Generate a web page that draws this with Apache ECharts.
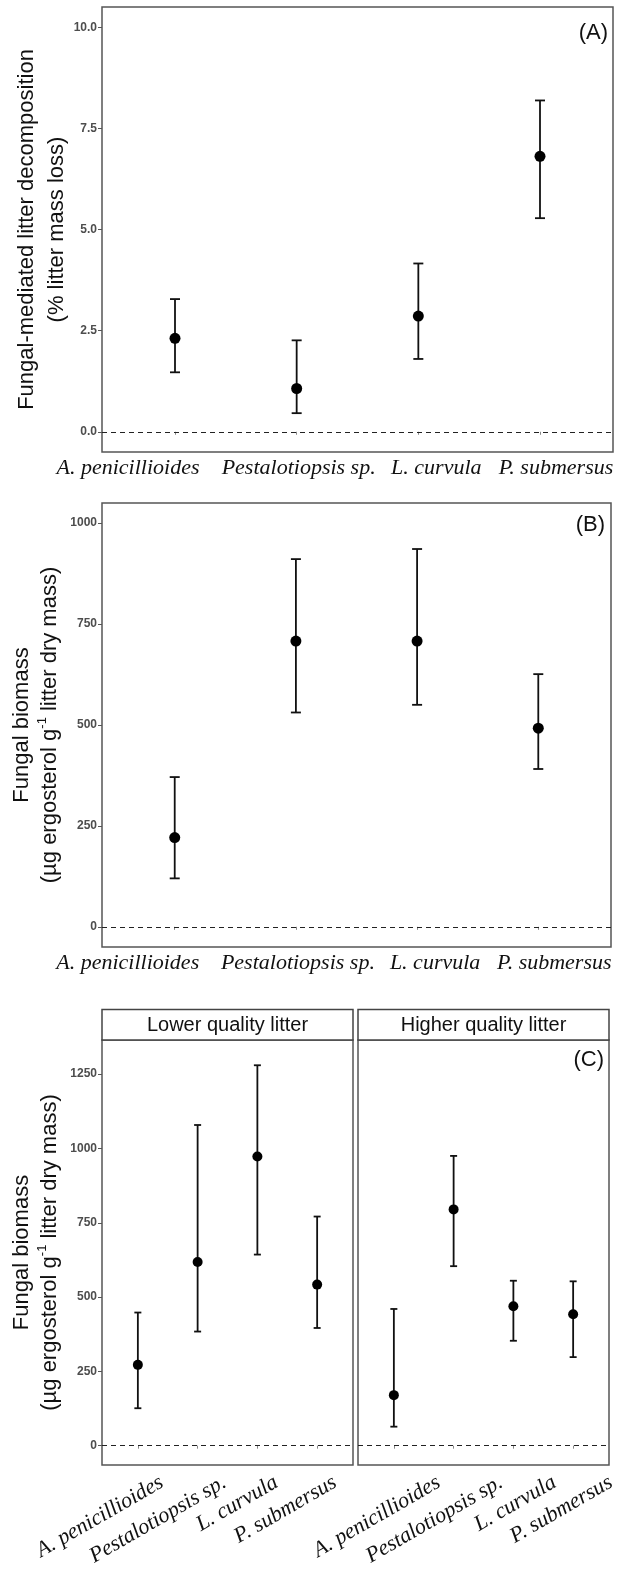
<!DOCTYPE html>
<html>
<head>
<meta charset="utf-8">
<script src="https://cdn.jsdelivr.net/npm/echarts@6/dist/echarts.min.js"></script>
<style>
html, body { margin: 0; padding: 0; background: #fff; }
#main { width: 619px; height: 1571px; }
</style>
</head>
<body>
<div id="main"></div>
<script>
// species shown on every x axis
var species = ['A. penicillioides', 'Pestalotiopsis sp.', 'L. curvula', 'P. submersus'];
var catPos = [1, 2, 3, 4];

// (A) fungal-mediated decomposition, % mass loss
var decompMean = [2.31, 1.07, 2.86, 6.81];
var decompLow = [1.47, 0.46, 1.80, 5.28];
var decompHigh = [3.28, 2.26, 4.16, 8.19];

// (B) fungal biomass, all litter
var biomassMean = [221, 708, 708, 492];
var biomassLow = [120, 531, 550, 391];
var biomassHigh = [371, 911, 936, 626];

// (C) fungal biomass by litter quality
var lowerMean = [272, 618, 973, 542];
var lowerLow = [126, 384, 643, 396];
var lowerHigh = [448, 1079, 1280, 771];
var higherMean = [170, 795, 469, 442];
var higherLow = [64, 604, 353, 298];
var higherHigh = [460, 975, 555, 553];

var ticksA = [0, 2.5, 5, 7.5, 10];
var ticksB = [0, 250, 500, 750, 1000];
var ticksC = [0, 250, 500, 750, 1000, 1250];

var facetNames = ['Lower quality litter', 'Higher quality litter'];

var SANS = '"Liberation Sans", Arial, Helvetica, sans-serif';
var SERIF = '"Liberation Serif", "Times New Roman", serif';
var PAGE_W = 619;

var biomassName = '{a|Fungal biomass}\n{a|(µg ergosterol g}{s|-1}{a| litter dry mass)}';
var nameRich = {
    a: { fontSize: 22, lineHeight: 28, fontFamily: SANS, color: '#111' },
    s: { fontSize: 13, lineHeight: 14, fontFamily: SANS, color: '#111', verticalAlign: 'top' }
};

var panels = [
    { grid: { left: 102, top: 7, width: 511, height: 445 }, min: -0.5, max: 10.5, ticks: ticksA, digits: 1,
      mean: decompMean, low: decompLow, high: decompHigh, shift: [-47, 2, 18, 16], rotate: 0, showY: true,
      name: 'Fungal-mediated litter decomposition\n(% litter mass loss)', nameGap: 30, cap: 5, dot: 11 },
    { grid: { left: 102, top: 503, width: 509, height: 444 }, min: -50, max: 1050, ticks: ticksB, digits: 0,
      mean: biomassMean, low: biomassLow, high: biomassHigh, shift: [-47, 2, 18, 16], rotate: 0, showY: true,
      name: biomassName, nameGap: 38, cap: 5, dot: 11 },
    { grid: { left: 102, top: 1040, width: 251, height: 425 }, min: -65, max: 1365, ticks: ticksC, digits: 0,
      mean: lowerMean, low: lowerLow, high: lowerHigh, shift: [24, 27, 19, 18], rotate: 30, showY: true,
      name: biomassName, nameGap: 38, cap: 3.5, dot: 10 },
    { grid: { left: 358, top: 1040, width: 251, height: 425 }, min: -65, max: 1365, ticks: ticksC, digits: 0,
      mean: higherMean, low: higherLow, high: higherHigh, shift: [48, 51, 45, 42], rotate: 30, showY: false,
      name: '', nameGap: 0, cap: 3.5, dot: 10 }
];

var grids = [], xAxes = [], yAxes = [], series = [];

panels.forEach(function (p, i) {
    grids.push({
        left: p.grid.left, top: p.grid.top, width: p.grid.width, height: p.grid.height,
        show: true, borderColor: '#555', borderWidth: 1.5, backgroundColor: '#fff'
    });
    xAxes.push({
        gridIndex: i, type: 'value', min: 0.4, max: 4.6,
        axisLine: { show: false }, splitLine: { show: false },
        axisTick: { show: true, customValues: catPos, length: 3, lineStyle: { color: '#888' } },
        axisLabel: { show: false }
    });
    yAxes.push({
        gridIndex: i, type: 'value', min: p.min, max: p.max,
        axisLine: { show: false }, splitLine: { show: false },
        axisTick: { show: p.showY, customValues: p.ticks, length: 4, lineStyle: { color: '#555' } },
        axisLabel: {
            show: p.showY, customValues: p.ticks, margin: 5,
            fontFamily: SANS, fontSize: 12, fontWeight: 'bold', color: '#4d4d4d',
            formatter: function (v) { return v.toFixed(p.digits); }
        },
        name: p.name, nameLocation: 'middle', nameRotate: 90, nameGap: p.nameGap, nameMoveOverlap: false,
        nameTextStyle: { fontSize: 22, lineHeight: 30, fontFamily: SANS, color: '#111', rich: nameRich }
    });
    series.push({
        type: 'custom', xAxisIndex: i, yAxisIndex: i, z: 2, silent: true,
        data: p.low.map(function (l, j) { return [catPos[j], l, p.high[j]]; }),
        encode: { x: 0, y: [1, 2] },
        renderItem: function (params, api) {
            var x = api.value(0);
            var lo = api.coord([x, api.value(1)]);
            var hi = api.coord([x, api.value(2)]);
            var st = { stroke: '#111', lineWidth: 1.8 };
            return {
                type: 'group',
                children: [
                    { type: 'line', shape: { x1: lo[0], y1: lo[1], x2: hi[0], y2: hi[1] }, style: st },
                    { type: 'line', shape: { x1: lo[0] - p.cap, y1: lo[1], x2: lo[0] + p.cap, y2: lo[1] }, style: st },
                    { type: 'line', shape: { x1: hi[0] - p.cap, y1: hi[1], x2: hi[0] + p.cap, y2: hi[1] }, style: st }
                ]
            };
        }
    });
    series.push({
        type: 'scatter', xAxisIndex: i, yAxisIndex: i, z: 3, silent: true,
        symbol: 'circle', symbolSize: p.dot, itemStyle: { color: '#000', opacity: 1 },
        data: p.mean.map(function (m, j) { return [catPos[j], m]; }),
        markLine: {
            silent: true, symbol: 'none', label: { show: false }, animation: false,
            lineStyle: { type: [5, 4], color: '#222', width: 1.2 },
            data: [{ yAxis: 0 }]
        }
    });
});

// species labels: a page-wide, invisible grid per panel on the same x scale,
// so labels that sit past the panel edge are not dropped
panels.forEach(function (p, i) {
    var unit = p.grid.width / 4.2;
    var lmin = 0.4 - p.grid.left / unit;
    var labelVals = catPos.map(function (c, j) { return c + p.shift[j] / unit; });
    var gi = grids.length;
    grids.push({ left: 0, top: p.grid.top, width: PAGE_W, height: p.grid.height, show: false });
    xAxes.push({
        gridIndex: gi, type: 'value', min: lmin, max: lmin + PAGE_W / unit,
        axisLine: { show: false }, axisTick: { show: false }, splitLine: { show: false },
        axisLabel: {
            customValues: labelVals, rotate: p.rotate, margin: p.rotate ? 16 : 5,
            showMinLabel: true, showMaxLabel: true, hideOverlap: false,
            fontFamily: SERIF, fontStyle: 'italic', fontSize: 22, color: '#111',
            formatter: function (v) {
                var k = 0, d = 1e9;
                labelVals.forEach(function (lv, j) {
                    if (Math.abs(lv - v) < d) { d = Math.abs(lv - v); k = j; }
                });
                return species[k];
            }
        }
    });
    yAxes.push({
        gridIndex: gi, type: 'value', min: 0, max: 1, show: false
    });
});

var graphic = [
    { type: 'rect', shape: { x: 102, y: 1009.5, width: 251, height: 30.5 }, style: { fill: '#fff', stroke: '#444', lineWidth: 1.5 } },
    { type: 'rect', shape: { x: 358, y: 1009.5, width: 251, height: 30.5 }, style: { fill: '#fff', stroke: '#444', lineWidth: 1.5 } },
    { type: 'text', x: 227.5, y: 1025, style: { text: facetNames[0], textAlign: 'center', verticalAlign: 'middle', font: '20px ' + SANS, fill: '#111' } },
    { type: 'text', x: 483.5, y: 1025, style: { text: facetNames[1], textAlign: 'center', verticalAlign: 'middle', font: '20px ' + SANS, fill: '#111' } },
    { type: 'text', x: 608, y: 33, style: { text: '(A)', textAlign: 'right', verticalAlign: 'middle', font: '22px ' + SANS, fill: '#111' } },
    { type: 'text', x: 605, y: 525, style: { text: '(B)', textAlign: 'right', verticalAlign: 'middle', font: '22px ' + SANS, fill: '#111' } },
    { type: 'text', x: 604, y: 1060, style: { text: '(C)', textAlign: 'right', verticalAlign: 'middle', font: '22px ' + SANS, fill: '#111' } }
];

var chart = echarts.init(document.getElementById('main'), null, { renderer: 'canvas' });
chart.setOption({
    animation: false,
    backgroundColor: '#fff',
    grid: grids,
    xAxis: xAxes,
    yAxis: yAxes,
    series: series,
    graphic: graphic
});
</script>
</body>
</html>
